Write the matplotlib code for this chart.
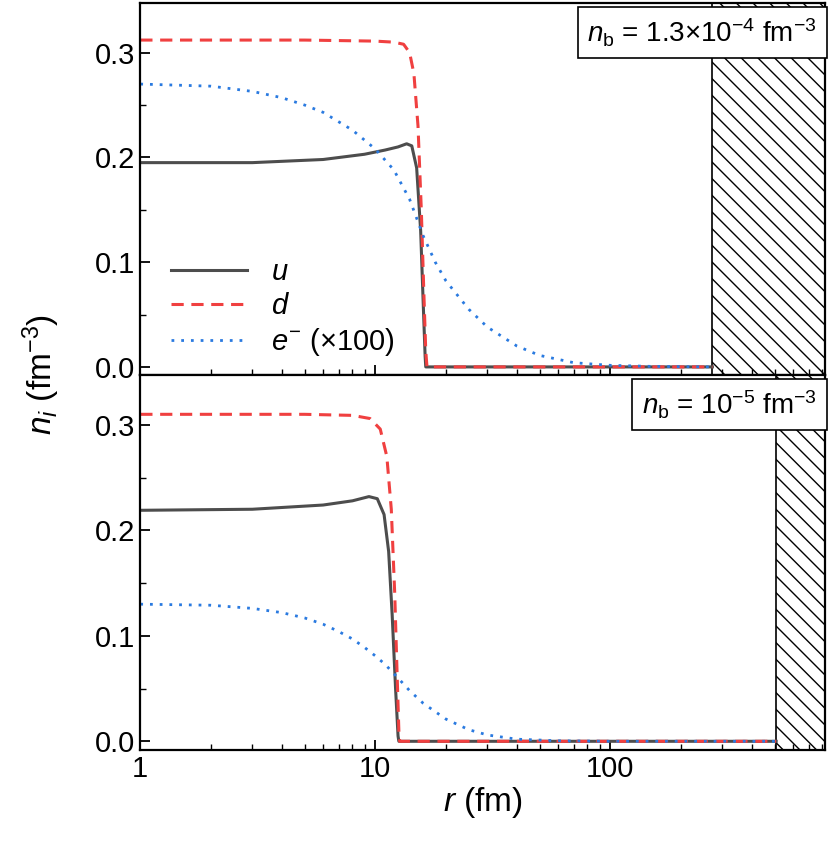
import numpy as np
import matplotlib
matplotlib.use("Agg")
import matplotlib.pyplot as plt
from matplotlib.ticker import LogLocator, NullFormatter, FixedLocator

plt.rcParams['font.family'] = ['Liberation Sans', 'DejaVu Sans']
plt.rcParams['mathtext.fontset'] = 'custom'
plt.rcParams['mathtext.it'] = 'Liberation Sans:italic'
plt.rcParams['mathtext.rm'] = 'Liberation Sans'

# Top panel (n_b = 1.3e-4)
r_u1 = [1, 3, 6, 9, 11, 12.5, 13.6, 14.3, 15.0, 15.6, 16.0, 16.3, 16.4, 272]
u1 = [0.195, 0.195, 0.198, 0.203, 0.207, 0.210, 0.213, 0.211, 0.19, 0.13, 0.06, 0.01, 0.0, 0.0]
r_d1 = [1, 5, 10, 12, 13.2, 14.0, 14.6, 15.2, 15.7, 16.1, 16.4, 16.6, 272]
d1 = [0.312, 0.312, 0.311, 0.310, 0.308, 0.300, 0.28, 0.23, 0.15, 0.07, 0.015, 0.0, 0.0]
r_e1 = [1, 2, 3, 4, 5, 6, 8, 10, 12, 14, 16, 18, 20, 25, 30, 40, 50, 70, 100, 150, 272]
e1 = [0.270, 0.268, 0.263, 0.257, 0.250, 0.243, 0.226, 0.208, 0.188, 0.160, 0.125, 0.100, 0.082, 0.055, 0.038, 0.020, 0.011, 0.004, 0.0015, 0.0005, 0.0]

# Bottom panel (n_b = 1e-5)
r_u2 = [1, 3, 6, 8, 9.4, 10.2, 10.9, 11.4, 11.8, 12.2, 12.5, 12.6, 508]
u2 = [0.219, 0.220, 0.224, 0.228, 0.232, 0.230, 0.215, 0.18, 0.12, 0.05, 0.005, 0.0, 0.0]
r_d2 = [1, 5, 8, 9.5, 10.5, 11.2, 11.7, 12.1, 12.4, 12.6, 12.7, 508]
d2 = [0.310, 0.310, 0.309, 0.306, 0.296, 0.27, 0.22, 0.14, 0.06, 0.01, 0.0, 0.0]
r_e2 = [1, 2, 3, 4, 5, 6, 7, 8, 9, 10, 11, 12.5, 14, 16, 20, 25, 30, 40, 60, 100, 508]
e2 = [0.130, 0.129, 0.126, 0.122, 0.117, 0.111, 0.104, 0.097, 0.089, 0.081, 0.073, 0.060, 0.048, 0.036, 0.021, 0.011, 0.006, 0.002, 0.0005, 0.0, 0.0]

hatch_start = [272, 508]
labels = [r'$n_\mathrm{b}$ = 1.3×10$^{-4}$ fm$^{-3}$', r'$n_\mathrm{b}$ = 10$^{-5}$ fm$^{-3}$']
xmax = 820

fig = plt.figure(figsize=(8.3, 8.51), dpi=100)
ax1 = fig.add_axes([0.169, 0.559, 0.825, 0.437])
ax2 = fig.add_axes([0.169, 0.119, 0.825, 0.440], sharex=ax1)

data = [(r_u1, u1, r_d1, d1, r_e1, e1), (r_u2, u2, r_d2, d2, r_e2, e2)]
for i, ax in enumerate([ax1, ax2]):
    ru, u, rd, d, re, e = data[i]
    ax.plot(ru, u, color='#4d4d4d', lw=2.2, label=r'$u$')
    ax.plot(rd, d, color='#f04040', lw=2.2, ls=(0, (4, 2.5)), label=r'$d$')
    ax.plot(re, e, color='#2a7ae0', lw=2, ls=(0, (1, 2.5)), label=r'$e^{-}$ (×100)')
    ax.axvspan(hatch_start[i], xmax, facecolor='white', edgecolor='black', hatch='\\\\', lw=1.2)
    ax.set_xscale('log')
    ax.set_xlim(1, xmax)
    ax.set_ylim(-0.008, 0.347)
    ax.yaxis.set_major_locator(FixedLocator([0.0, 0.1, 0.2, 0.3]))
    ax.set_yticklabels(['0.0', '0.1', '0.2', '0.3'])
    ax.yaxis.set_minor_locator(FixedLocator([0.05, 0.15, 0.25]))
    ax.tick_params(which='both', direction='in', labelsize=21, top=False, right=False)
    ax.tick_params(which='major', length=7, width=1.3)
    ax.tick_params(which='minor', length=4, width=1.0)
    for s in ax.spines.values():
        s.set_linewidth(1.6)
    ax.text(0.988, 0.965, labels[i], transform=ax.transAxes, ha='right', va='top', fontsize=20,
            bbox=dict(boxstyle='square,pad=0.35', fc='white', ec='black', lw=1.2), zorder=5)

ax1.xaxis.set_minor_locator(LogLocator(base=10, subs=np.arange(2, 10), numticks=20))
ax1.xaxis.set_minor_formatter(NullFormatter())
plt.setp(ax1.get_xticklabels(), visible=False)
ax2.set_xticks([1, 10, 100])
ax2.set_xticklabels(['1', '10', '100'])
ax2.set_xlabel(r'$r$ (fm)', fontsize=24, labelpad=2)
fig.text(0.05, 0.56, r'$n_i$ (fm$^{-3}$)', rotation=90, fontsize=24, va='center', ha='center')

leg = ax1.legend(loc='lower left', bbox_to_anchor=(0.02, 0.0), frameon=False, fontsize=21,
                 handlelength=2.6, labelspacing=0.2, borderaxespad=0.2)

fig.savefig('out.png', dpi=100)
